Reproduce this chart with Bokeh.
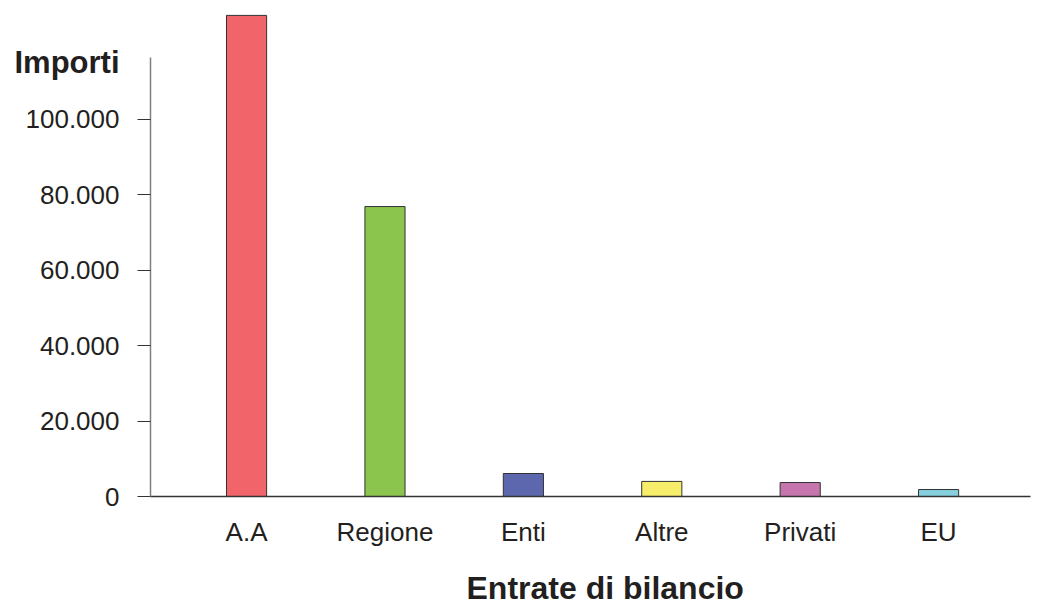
from bokeh.plotting import figure
from bokeh.models import Range1d, FixedTicker, ColumnDataSource, LinearAxis
from bokeh.embed import file_html
from bokeh.resources import INLINE

categories = ["A.A", "Regione", "Enti", "Altre", "Privati", "EU"]
values = [127600, 76900, 6100, 4000, 3700, 1850]
colors = ["#F0646A", "#8BC54E", "#5C67AD", "#F6EE6A", "#C675AD", "#86D0DE"]
y_ticks = [0, 20000, 40000, 60000, 80000, 100000]
y_tick_labels = ["0", "20.000", "40.000", "60.000", "80.000", "100.000"]
y_title = "Importi"
x_title = "Entrate di bilancio"

FONT = "Liberation Sans"
TXT = "#231F20"

xs = list(range(len(categories)))
src = ColumnDataSource(dict(x=xs, top=values, color=colors))

p = figure(width=1044, height=606, output_backend="svg", toolbar_location=None,
           x_range=Range1d(-0.694, 5.664), y_range=Range1d(0, 128900),
           min_border_left=150, min_border_right=14, min_border_top=10, min_border_bottom=110)
p.outline_line_color = None
p.grid.visible = False
p.background_fill_color = "white"
p.border_fill_color = "white"

p.vbar(x="x", top="top", bottom=0, width=0.29, fill_color="color",
       line_color="#333333", line_width=1, source=src)

# y axis
ya = p.yaxis[0]
ya.ticker = FixedTicker(ticks=y_ticks)
ya.major_label_overrides = {t: l for t, l in zip(y_ticks, y_tick_labels)}
ya.bounds = (0, 116400)
ya.axis_line_color = "#808080"
ya.axis_line_width = 1.5
ya.major_tick_line_color = "#333333"
ya.major_tick_out = 13
ya.major_tick_in = 0
ya.minor_tick_out = 0
ya.minor_tick_in = 0
ya.major_label_standoff = 18
ya.major_label_text_font = FONT
ya.major_label_text_font_size = "26px"
ya.major_label_text_color = TXT
# title of the value axis, placed at the top-left like the reference
ya.axis_label = y_title + "\n" * 10
ya.axis_label_orientation = "horizontal"
ya.axis_label_standoff = -97
ya.axis_label_text_font = FONT
ya.axis_label_text_font_size = "31px"
ya.axis_label_text_font_style = "bold"
ya.axis_label_text_color = TXT
ya.axis_label_text_line_height = 1.09

# x axis
xa = p.xaxis[0]
xa.ticker = FixedTicker(ticks=xs)
xa.major_label_overrides = {i: c for i, c in enumerate(categories)}
xa.axis_line_color = "#333333"
xa.axis_line_width = 1.5
xa.major_tick_out = 0
xa.major_tick_in = 0
xa.minor_tick_out = 0
xa.minor_tick_in = 0
xa.major_label_standoff = 20
xa.major_label_text_font = FONT
xa.major_label_text_font_size = "26px"
xa.major_label_text_color = TXT

# title of the category axis, carried by an invisible helper axis
ta = LinearAxis(ticker=FixedTicker(ticks=[]), axis_line_color=None,
                major_tick_out=0, major_tick_in=0, minor_tick_out=0, minor_tick_in=0,
                major_label_standoff=0)
ta.axis_label = "\n" * 18 + x_title
ta.axis_label_orientation = "horizontal"
ta.axis_label_standoff = -564
ta.axis_label_text_font = FONT
ta.axis_label_text_font_size = "32px"
ta.axis_label_text_font_style = "bold"
ta.axis_label_text_color = TXT
ta.axis_label_text_line_height = 1.033
p.add_layout(ta, "right")

open("out.html", "w").write(file_html(p, INLINE))
